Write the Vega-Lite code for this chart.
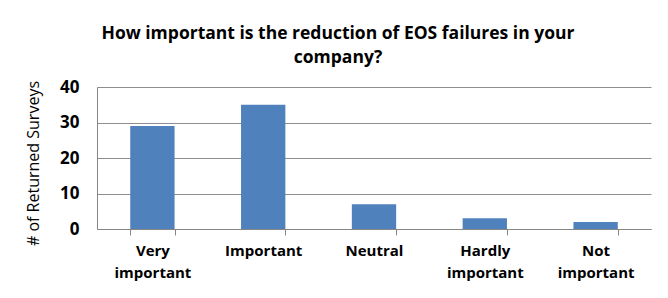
{
  "$schema": "https://vega.github.io/schema/vega-lite/v6.json",
  "width": 554,
  "height": 142,
  "autosize": "none",
  "padding": {"left": 97, "top": 87, "right": 17, "bottom": 69},
  "background": "white",
  "title": {
    "text": ["How important is the reduction of EOS failures in your", "company?"],
    "font": "Open Sans",
    "fontSize": 17.5,
    "fontWeight": "bold",
    "color": "#000000",
    "anchor": "middle",
    "dx": -36,
    "offset": 12,
    "lineHeight": 24
  },
  "data": {
    "values": [
      {"category": "Very important", "surveys": 29},
      {"category": "Important", "surveys": 35},
      {"category": "Neutral", "surveys": 7},
      {"category": "Hardly important", "surveys": 3},
      {"category": "Not important", "surveys": 2}
    ]
  },
  "mark": {"type": "bar", "color": "#4F81BD"},
  "encoding": {
    "x": {
      "field": "category",
      "type": "nominal",
      "sort": null,
      "scale": {"paddingInner": 0.6, "paddingOuter": 0.3},
      "axis": {
        "title": null,
        "labelAngle": 0,
        "labelExpr": "datum.label == 'Important' || datum.label == 'Neutral' ? datum.label : split(datum.label, ' ')",
        "labelFont": "Open Sans",
        "labelFontSize": 15,
        "labelFontWeight": "bold",
        "labelColor": "#000000",
        "labelLineHeight": 22,
        "labelPadding": 8,
        "tickBand": "extent",
        "tickColor": "#868686",
        "tickSize": 6,
        "domainColor": "#868686",
        "grid": false
      }
    },
    "y": {
      "field": "surveys",
      "type": "quantitative",
      "scale": {"domain": [0, 40]},
      "axis": {
        "title": "# of Returned Surveys",
        "titleFont": "Open Sans",
        "titleFontSize": 16,
        "titleFontWeight": "normal",
        "titleColor": "#000000",
        "titlePadding": 18,
        "titleY": 76,
        "values": [0, 10, 20, 30, 40],
        "labelFont": "Open Sans",
        "labelFontSize": 17,
        "labelFontWeight": "bold",
        "labelColor": "#000000",
        "labelPadding": 18,
        "ticks": false,
        "domainColor": "#868686",
        "grid": true,
        "gridColor": "#8E8E8E"
      }
    }
  },
  "config": {"view": {"stroke": null}}
}
